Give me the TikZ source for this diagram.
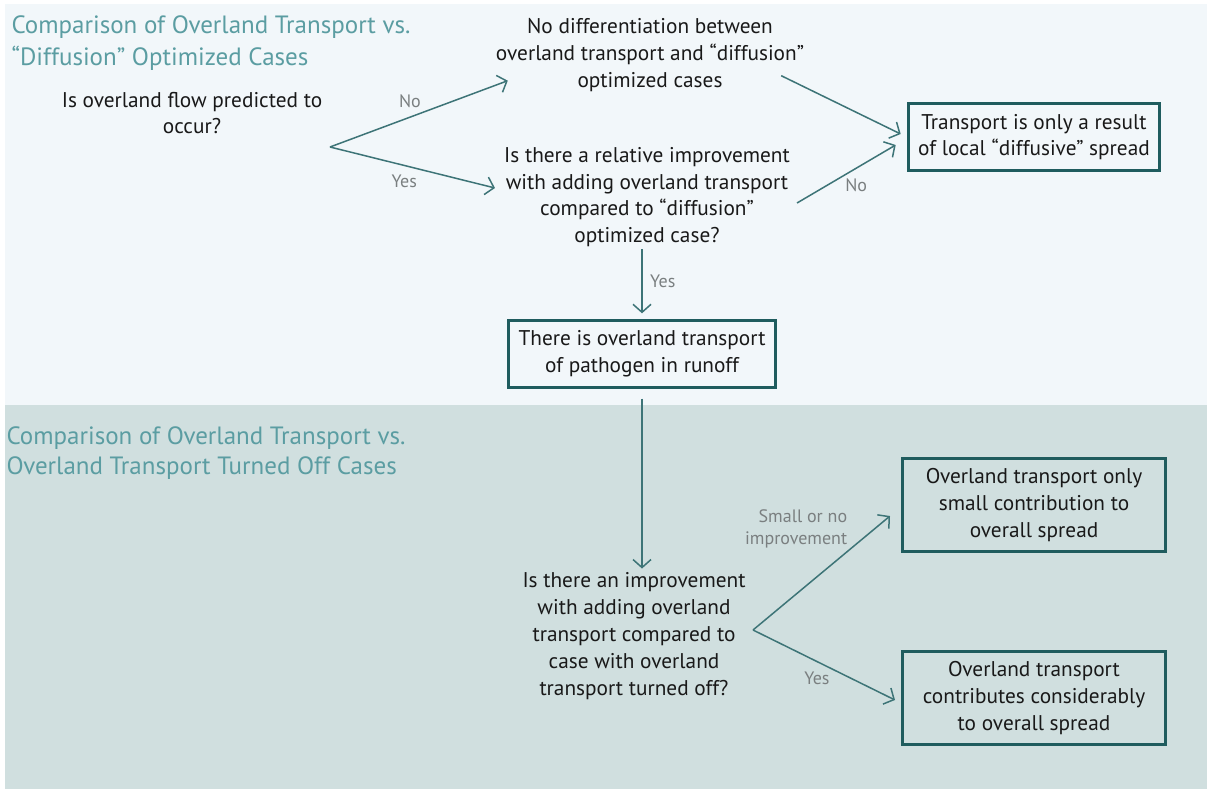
\documentclass[tikz,border=0pt]{standalone}
\usepackage{fontspec}
\setmainfont{PT Sans}
\usetikzlibrary{arrows.meta}
\definecolor{toppanel}{HTML}{F2F7FA}
\definecolor{botpanel}{HTML}{D0DFDF}
\definecolor{titleteal}{HTML}{5B9DA2}
\definecolor{boxline}{HTML}{1F5C5E}
\definecolor{arrowline}{HTML}{3D7477}
\definecolor{labelgray}{HTML}{7A7F80}

\begin{document}
\begin{tikzpicture}[x=1pt,y=-1pt,
    txt/.style = {align=center, text=black!90, font=\fontsize{21.3}{26.8}\selectfont, inner sep=2pt},
    box/.style = {txt, draw=boxline, line width=3pt, inner xsep=10pt, inner ysep=10pt},
    title/.style = {align=left, anchor=west, text=titleteal, font=\fontsize{25}{32}\selectfont},
    lbl/.style = {text=labelgray, font=\fontsize{18}{22}\selectfont},
    edge/.style = {->, > = {Straight Barb[length=8pt,width=18pt]}, draw=arrowline, line width=1.5pt}]
    % panels
    \useasboundingbox (0,0) rectangle (1207,789);
    \fill[white] (0,0) rectangle (1207,789);
    \fill[toppanel] (5,4) rectangle (1207,405);
    \fill[botpanel] (5,405) rectangle (1207,789);
    \node[title] (t1) at (8,43.5) {Comparison of Overland Transport vs.\\“Diffusion” Optimized Cases};
    \node[title, font=\fontsize{25}{30}\selectfont] (t2) at (3,453) {Comparison of Overland Transport vs.\\Overland Transport Turned Off Cases};
    % top part
    \node[txt] (q1) at (192,113) {Is overland flow predicted to\\occur?};
    \coordinate (fork1) at (330,147);
    \node[txt] (n1) at (650,55) {No differentiation between\\overland transport and “diffusion”\\optimized cases};
    \node[txt] (q2) at (647,197) {Is there a relative improvement\\with adding overland transport\\compared to “diffusion”\\optimized case?};
    \node[box] (r1) at (1034,137) {Transport is only a result\\of local “diffusive” spread};
    \node[box] (r2) at (642,354) {There is overland transport\\of pathogen in runoff};
    \draw[edge] (fork1) -- ([shift={(14,-13)}]n1.south west)
        node[lbl, pos=0.45, above=5pt] {No};
    \draw[edge] (fork1) -- ([shift={(-7,-9)}]q2.west)
        node[lbl, pos=0.45, below=5pt] {Yes};
    \draw[edge] ([shift={(-25,-18)}]n1.south east) -- ([shift={(-6,-3)}]r1.west);
    \draw[edge] ([shift={(5,6)}]q2.east) -- ([shift={(-11,8)}]r1.west)
        node[lbl, pos=0.6, below=6pt] {No};
    \draw[edge] (r2.north |- q2.south) -- ([shift={(0,-6)}]r2.north)
        node[lbl, midway, right=4pt] {Yes};
%%%%%%%%%%%%%%%%%
    \node[txt] (q3) at (634,636) {Is there an improvement\\with adding overland\\transport compared to\\case with overland\\transport turned off?};
    \coordinate (fork2) at (753,630);
    \node[box, minimum width=263pt, minimum height=92pt] (r3) at (1034,505) {Overland transport only\\small contribution to\\overall spread};
    \node[box, minimum width=263pt, minimum height=92pt] (r4) at (1034,698) {Overland transport\\contributes considerably\\to overall spread};
    \draw[edge] ([shift={(0,10)}]r2.south) -- ([shift={(0,-2)}]r2.south |- q3.north);
    \draw[edge] (fork2) -- ([shift={(-11,11)}]r3.west)
        node[lbl, align=right, anchor=south east, pos=0.7, inner sep=1pt] {Small or no\\improvement};
    \draw[edge] (fork2) -- ([shift={(-6,2)}]r4.west)
        node[lbl, pos=0.45, below=6pt] {Yes};
\end{tikzpicture}
\end{document}
